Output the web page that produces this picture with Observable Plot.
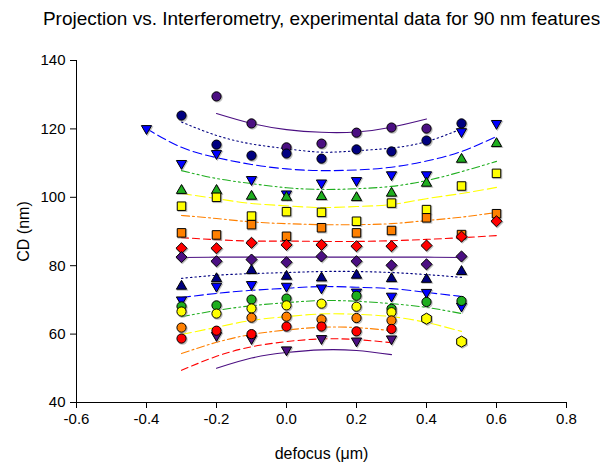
<!DOCTYPE html>
<html>
<head>
<meta charset="utf-8">
<script src="https://cdn.jsdelivr.net/npm/d3@7"></script>
<script src="https://cdn.jsdelivr.net/npm/@observablehq/plot@0.6"></script>
<style>
  html, body { margin: 0; padding: 0; background: #fff; }
</style>
</head>
<body>
<div id="chart"></div>
<script>
// ---------- data ----------
const title = "Projection vs. Interferometry, experimental data for 90 nm features";
const xLabel = "defocus (\u03BCm)";
const yLabel = "CD (nm)";
const xTicks = [-0.6, -0.4, -0.2, 0.0, 0.2, 0.4, 0.6, 0.8];
const yTicks = [40, 60, 80, 100, 120, 140];

const defocus = [-0.4, -0.3, -0.2, -0.1, 0.0, 0.1, 0.2, 0.3, 0.4, 0.5, 0.6];

// measured points (upper group)
const purpleCircles   = [null, null, 129.5, 121.6, 114.6, 115.7, 118.9, 120.4, 120.1, null, null];
const navyCircles     = [null, 123.9, 115.4, 112.2, 112.8, 111.3, 114.0, 113.4, 116.6, 121.6, null];
const blueDownUpper   = [120.1, 109.9, 112.8, 105.2, 101.0, 104.2, 104.9, 106.6, 106.6, 119.2, 121.6];
const greenUpUpper    = [null, 102.0, 102.0, 100.3, 100.0, 100.2, 99.9, 101.2, 104.1, 111.1, 115.7];
const yellowSquares   = [null, 97.4, 100.0, 94.5, 95.8, 95.6, 93.0, 98.3, 96.4, 103.3, 107.0];
const orangeSquares   = [null, 89.6, 89.0, 92.0, 88.6, 91.1, 89.6, 90.3, 94.0, 89.1, 95.2];
const redDiamonds     = [null, 85.1, 85.1, 86.7, 86.1, 86.1, 85.7, 85.7, 85.9, 88.5, 93.0];
const purpleDiamonds  = [null, 82.5, 81.3, 81.8, 81.0, 82.7, 81.3, 80.1, 80.4, 82.7, null];
// measured points (lower group)
const navyUpLower     = [null, 74.0, 76.2, 78.6, 76.9, 76.4, 77.2, 76.2, 76.0, 78.3, null];
const blueDownLower   = [null, 70.0, 74.0, 74.5, 74.0, 73.5, 72.3, 71.1, 72.2, 68.2, null];
const greenCircles    = [null, 68.1, 68.4, 70.1, 70.4, null, 71.2, 67.4, 69.4, 69.7, null];
const yellowCircles   = [null, 66.6, 66.0, 67.5, 68.4, 68.9, 68.0, 66.4, null, null, null];
const yellowHexagons  = [null, null, null, null, null, null, null, null, 64.5, 57.8, null];
const orangeCircles   = [null, 61.9, null, 64.8, 65.1, 64.3, 64.7, 64.0, null, null, null];
const redCircles      = [null, 58.7, 61.0, 60.0, 62.2, 62.2, 60.8, 61.5, null, null, null];
const purpleDownLower = [null, null, 59.6, 58.7, 55.4, 58.7, 58.0, 58.6, null, null, null];

// fitted curves at the same defocus values
const purpleCirclesFit   = [null, null, 124.5, 121.6, 119.8, 119.0, 119.1, 120.5, 122.9, null, null];
const navyCirclesFit     = [null, 122.0, 118.1, 115.6, 114.2, 113.2, 113.6, 114.4, 116.3, 120.0, null];
const blueDownUpperFit   = [120.1, 114.6, 111.6, 109.6, 108.3, 107.8, 108.0, 108.8, 110.6, 113.4, 117.8];
const greenUpUpperFit    = [null, 107.8, 105.5, 104.0, 102.8, 102.3, 102.5, 103.2, 104.9, 107.5, 110.5];
const yellowSquaresFit   = [null, 101.1, 99.6, 98.2, 97.5, 97.0, 97.3, 97.9, 99.6, 101.1, 102.9];
const orangeSquaresFit   = [null, 94.7, 93.8, 92.8, 92.3, 92.0, 92.0, 92.3, 93.2, 94.2, 95.6];
const redDiamondsFit     = [null, 88.2, 87.6, 87.2, 87.2, 87.1, 87.1, 87.3, 87.7, 88.2, 88.8];
const purpleDiamondsFit  = [null, 82.4, 82.5, 82.5, 82.5, 82.5, 82.5, 82.5, 82.5, 82.4, null];
const navyUpLowerFit     = [null, 76.3, 77.2, 77.7, 78.0, 78.3, 78.3, 78.0, 77.4, 76.6, null];
const blueDownLowerFit   = [null, 70.7, 71.9, 72.8, 73.4, 73.9, 73.7, 73.3, 72.2, 71.0, null];
const greenCirclesFit    = [null, 65.1, 66.9, 68.3, 69.2, 69.8, 69.6, 68.9, 67.8, 66.0, null];
const yellowCirclesFit   = [null, 59.9, 62.0, 64.0, 65.1, 65.9, 65.8, 65.1, 63.4, 60.8, null];
const orangeCirclesFit   = [null, 54.3, 57.6, 59.9, 61.2, 62.0, 61.9, 61.0, null, null, null];
const redCirclesFit      = [null, 49.4, 53.5, 56.3, 57.8, 58.6, 58.4, 57.5, null, null, null];
const purpleDownLowerFit = [null, null, 50.0, 53.0, 54.6, 55.4, 55.2, 54.0, null, null, null];

// ---------- styles ----------
const C = {
  purple: "#4b0f82", navy: "#000080", blue: "#0000ff", green: "#1fae1f",
  yellow: "#ffff00", orange: "#ff8000", red: "#ff0000"
};
const DASH = {
  solid: null, dotted: "1.5,3", longDash: "9,4", dashDotDot: "8,3,2,3,2,3",
  yellowDash: "10,4", dashDot: "8,3,2,3", dashed: "7,4"
};
const TRI = 3.8, CIR = 4.6, SQ = 4.8, DIA = 5.0, HEX = 4.8;

// draw order: first listed is drawn first
const series = [
  {values: purpleCircles,   fit: purpleCirclesFit,   color: C.purple, symbol: "circle",   rot: 0,   r: CIR, dash: DASH.solid},
  {values: navyCircles,     fit: navyCirclesFit,     color: C.navy,   symbol: "circle",   rot: 0,   r: CIR, dash: DASH.dotted},
  {values: blueDownUpper,   fit: blueDownUpperFit,   color: C.blue,   symbol: "triangle", rot: 180, r: TRI, dash: DASH.longDash},
  {values: greenUpUpper,    fit: greenUpUpperFit,    color: C.green,  symbol: "triangle", rot: 0,   r: TRI, dash: DASH.dashDotDot},
  {values: yellowSquares,   fit: yellowSquaresFit,   color: C.yellow, symbol: "square",   rot: 0,   r: SQ,  dash: DASH.yellowDash},
  {values: orangeSquares,   fit: orangeSquaresFit,   color: C.orange, symbol: "square",   rot: 0,   r: SQ,  dash: DASH.dashDot},
  {values: redDiamonds,     fit: redDiamondsFit,     color: C.red,    symbol: "diamond2", rot: 0,   r: DIA, dash: DASH.dashed},
  {values: purpleDiamonds,  fit: purpleDiamondsFit,  color: C.purple, symbol: "diamond2", rot: 0,   r: DIA, dash: DASH.solid},
  {values: purpleDownLower, fit: purpleDownLowerFit, color: C.purple, symbol: "triangle", rot: 180, r: TRI, dash: DASH.solid},
  {values: navyUpLower,     fit: navyUpLowerFit,     color: C.navy,   symbol: "triangle", rot: 0,   r: TRI, dash: DASH.dotted},
  {values: blueDownLower,   fit: blueDownLowerFit,   color: C.blue,   symbol: "triangle", rot: 180, r: TRI, dash: DASH.longDash},
  {values: greenCircles,    fit: greenCirclesFit,    color: C.green,  symbol: "circle",   rot: 0,   r: CIR, dash: DASH.dashDotDot},
  {values: yellowCircles,   fit: yellowCirclesFit,   color: C.yellow, symbol: "circle",   rot: 0,   r: CIR, dash: DASH.yellowDash},
  {values: yellowHexagons,  fit: null,               color: C.yellow, symbol: "hexagon",  rot: 0,   r: HEX, dash: null},
  {values: orangeCircles,   fit: orangeCirclesFit,   color: C.orange, symbol: "circle",   rot: 0,   r: CIR, dash: DASH.dashDot},
  {values: redCircles,      fit: redCirclesFit,      color: C.red,    symbol: "circle",   rot: 0,   r: CIR, dash: DASH.dashed}
];

const toPoints = arr => defocus.map((x, i) => ({x, y: arr[i]})).filter(d => d.y != null);

const lineMarks = series.filter(s => s.fit).map(s =>
  Plot.line(toPoints(s.fit), {
    x: "x", y: "y", stroke: s.color, strokeWidth: 1.1,
    strokeDasharray: s.dash, curve: "natural"
  })
);
const shadowMarks = series.map(s =>
  Plot.dot(toPoints(s.values), {
    x: "x", y: "y", symbol: s.symbol, r: s.r + 0.6, rotate: s.rot,
    fill: "#8c8c8c", fillOpacity: 0.55, stroke: "none", dx: 1, dy: 1
  })
);
const dotMarks = series.map(s =>
  Plot.dot(toPoints(s.values), {
    x: "x", y: "y", symbol: s.symbol, r: s.r, rotate: s.rot,
    fill: s.color, stroke: "#000", strokeWidth: 1
  })
);

const chart = Plot.plot({
  width: 600,
  height: 463,
  marginLeft: 76,
  marginRight: 34,
  marginTop: 60,
  marginBottom: 61,
  style: {fontFamily: "'Liberation Sans', Arial, sans-serif", fontSize: "15px", background: "#fff", color: "#000"},
  x: {domain: [-0.6, 0.8], ticks: xTicks},
  y: {domain: [40, 140], ticks: yTicks},
  marks: [
    Plot.axisX({ticks: xTicks, tickSize: 6, tickPadding: 5, tickFormat: d => d.toFixed(1), label: null, fontSize: 15}),
    Plot.axisY({ticks: yTicks, tickSize: 6, tickPadding: 5, tickFormat: d => String(d), label: null, fontSize: 15}),
    Plot.ruleX([-0.6], {stroke: "#000"}),
    Plot.ruleY([40], {stroke: "#000"}),
    ...lineMarks,
    ...shadowMarks,
    ...dotMarks,
    Plot.text([title], {frameAnchor: "top", lineAnchor: "middle", textAnchor: "middle", dy: -42, fontSize: 19, fill: "#000"}),
    Plot.text([yLabel], {frameAnchor: "left", lineAnchor: "middle", textAnchor: "middle", dx: -53, rotate: -90, fontSize: 16, fill: "#000"}),
    Plot.text([xLabel], {frameAnchor: "bottom", lineAnchor: "middle", textAnchor: "middle", dy: 51, fontSize: 16, fill: "#000"})
  ]
});
document.getElementById("chart").appendChild(chart);
</script>
</body>
</html>
